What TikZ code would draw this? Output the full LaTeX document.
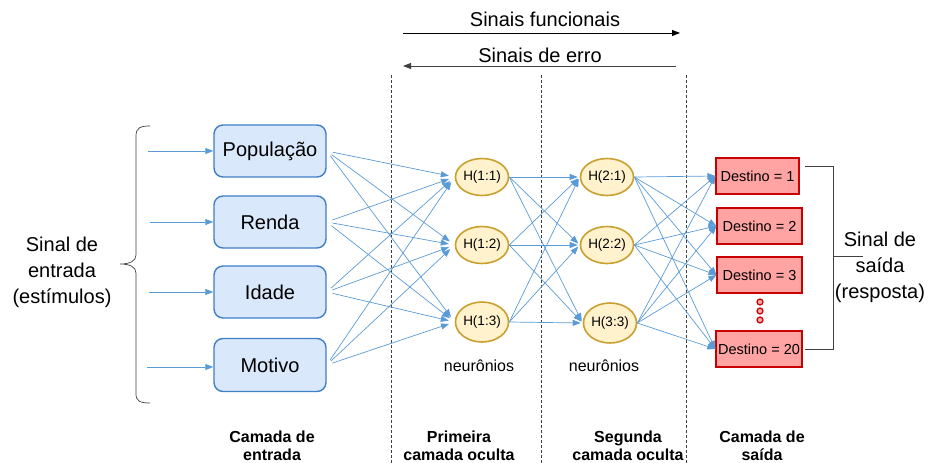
\documentclass[tikz,border=0pt]{standalone}
\usepackage{fontspec}
\setmainfont{Liberation Sans}
\usetikzlibrary{arrows.meta,shapes.geometric}
\definecolor{inFill}{HTML}{DAE8FC}
\definecolor{inDraw}{HTML}{3F7FC4}
\definecolor{hFill}{HTML}{FFF2CC}
\definecolor{hDraw}{HTML}{C9A030}
\definecolor{oFill}{HTML}{FFA3A3}
\definecolor{oDraw}{HTML}{C80000}
\definecolor{conn}{HTML}{5B9BD5}
\definecolor{dashc}{HTML}{404040}
\tikzset{
  inbox/.style={draw=inDraw, fill=inFill, line width=1.4pt, rounded corners=9pt,
    minimum width=112pt, minimum height=52pt, inner sep=0pt, font=\fontsize{20}{24}\selectfont},
  hnode/.style={ellipse, draw=hDraw, fill=hFill, line width=1.6pt, minimum width=42pt,
    minimum height=37pt, inner sep=0pt, font=\fontsize{13.5}{16}\selectfont},
  obox/.style={draw=oDraw, fill=oFill, line width=1.2pt, minimum width=85pt,
    minimum height=36pt, inner sep=0pt, font=\fontsize{14.5}{17}\selectfont},
  conarrow/.style={draw=conn, line width=0.7pt, -{Triangle[length=8pt,width=6pt]}},
  layerlab/.style={align=center, font=\bfseries\fontsize{16}{18}\selectfont},
  sidelab/.style={align=center, font=\fontsize{20}{26}\selectfont},
  divider/.style={draw=dashc, line width=0.7pt, dash pattern=on 3pt off 2pt},
  reddot/.style={circle, draw=oDraw, fill=oFill, line width=1.2pt, minimum size=6pt, inner sep=0pt},
  neulab/.style={font=\fontsize{16}{18}\selectfont}
}
\begin{document}
\begin{tikzpicture}[x=1pt,y=-1pt]
\useasboundingbox (0,0) rectangle (932,463);

% top arrows
\coordinate (f1) at (403,33);
\coordinate (f2) at (680,33);
\coordinate (e1) at (676,66);
\coordinate (e2) at (403,66);
\draw[line width=0.8pt, -{Triangle[length=8pt,width=6pt]}] (f1) -- (f2);
\draw[draw=dashc, line width=0.8pt, -{Triangle[length=8pt,width=6pt]}] (e1) -- (e2);
\node[font=\fontsize{20}{24}\selectfont] (tf) at (545,19) {Sinais funcionais};
\node[font=\fontsize{20}{24}\selectfont] (te) at (540,55) {Sinais de erro};

% dividers
\coordinate (d1a) at (391,75); \coordinate (d1b) at (391,463);
\coordinate (d2a) at (541,75); \coordinate (d2b) at (541,463);
\coordinate (d3a) at (686,75); \coordinate (d3b) at (686,463);
\draw[divider] (d1a) -- (d1b);
\draw[divider] (d2a) -- (d2b);
\draw[divider] (d3a) -- (d3b);

% input nodes
\node[inbox] (pop) at (270,151) {População};
\node[inbox] (ren) at (270,222) {Renda};
\node[inbox] (ida) at (270,292) {Idade};
\node[inbox, minimum height=53pt] (mot) at (270,365) {Motivo};

% hidden 1
\node[hnode] (h11) at (482,177) {H(1:1)};
\node[hnode] (h12) at (482,245) {H(1:2)};
\node[hnode, minimum height=40pt] (h13) at (482,322) {H(1:3)};

% hidden 2
\node[hnode] (h21) at (607,177) {H(2:1)};
\node[hnode] (h22) at (607,245) {H(2:2)};
\node[hnode, minimum width=44pt, minimum height=40pt] (h33) at (610,323) {H(3:3)};

% outputs
\node[obox, minimum width=83pt] (o1) at (757.5,176) {Destino = 1};
\node[obox] (o2) at (759.5,226) {Destino = 2};
\node[obox] (o3) at (759.5,275) {Destino = 3};
\node[obox, minimum width=86pt] (o20) at (759,349) {Destino = 20};

% dots
\node[reddot] (dA) at (760,302) {};
\node[reddot] (dB) at (760,311) {};
\node[reddot] (dC) at (760,320) {};

% input arrows
\coordinate (i1) at (148,151);
\coordinate (i2) at (150,222);
\coordinate (i3) at (149,292);
\coordinate (i4) at (147,367);
\draw[conarrow] (i1) -- (pop.west);
\draw[conarrow] (i2) -- (ren.west);
\draw[conarrow] (i3) -- (ida.west);
\draw[conarrow] (i4) -- (mot.west |- i4);

% input -> hidden1
\foreach \a in {pop,ren,ida,mot}{
  \foreach \b in {h11,h12,h13}{
    \draw[conarrow, shorten <=6pt, shorten >=6pt] (\a.east) -- (\b.west);
  }
}
% hidden1 -> hidden2
\foreach \a in {h11,h12,h13}{
  \foreach \b in {h21,h22,h33}{
    \draw[conarrow, shorten >=2pt] (\a.east) -- (\b.west);
  }
}
% hidden2 -> outputs
\foreach \a in {h21,h22,h33}{
  \foreach \b in {o1,o2,o3,o20}{
    \draw[conarrow] (\a.east) -- (\b.west);
  }
}

% left brace
\draw[line width=0.7pt, draw=dashc] (150,126) .. controls (140,126) and (136,128) .. (136,136)
  -- (136,255) .. controls (136,261) and (130,264) .. (120,264)
  .. controls (130,264) and (136,267) .. (136,273)
  -- (136,394) .. controls (136,401) and (140,403) .. (150,403);
\node[sidelab] (inlab) at (62,272) {Sinal de\\entrada\\(estímulos)};

% right bracket
\coordinate (b1) at (805,166);
\coordinate (b2) at (833,166);
\coordinate (b3) at (833,349);
\coordinate (b4) at (805,349);
\coordinate (b5) at (833,256);
\coordinate (b6) at (863,256);
\draw[line width=0.9pt, draw=dashc] (b1) -- (b2) -- (b3) -- (b4);
\draw[line width=0.9pt, draw=dashc] (b5) -- (b6);
\node[sidelab] (outlab) at (880,267) {Sinal de\\saída\\(resposta)};

% neuron labels
\node[neulab] (n1) at (479,366) {neurônios};
\node[neulab] (n2) at (604,366) {neurônios};

% layer labels
\node[layerlab] (L1) at (272,446) {Camada de\\entrada};
\node[layerlab] (L2) at (459,446) {Primeira\\camada oculta};
\node[layerlab] (L3) at (628,446) {Segunda\\camada oculta};
\node[layerlab] (L4) at (762,446) {Camada de\\saída};
\end{tikzpicture}
\end{document}
